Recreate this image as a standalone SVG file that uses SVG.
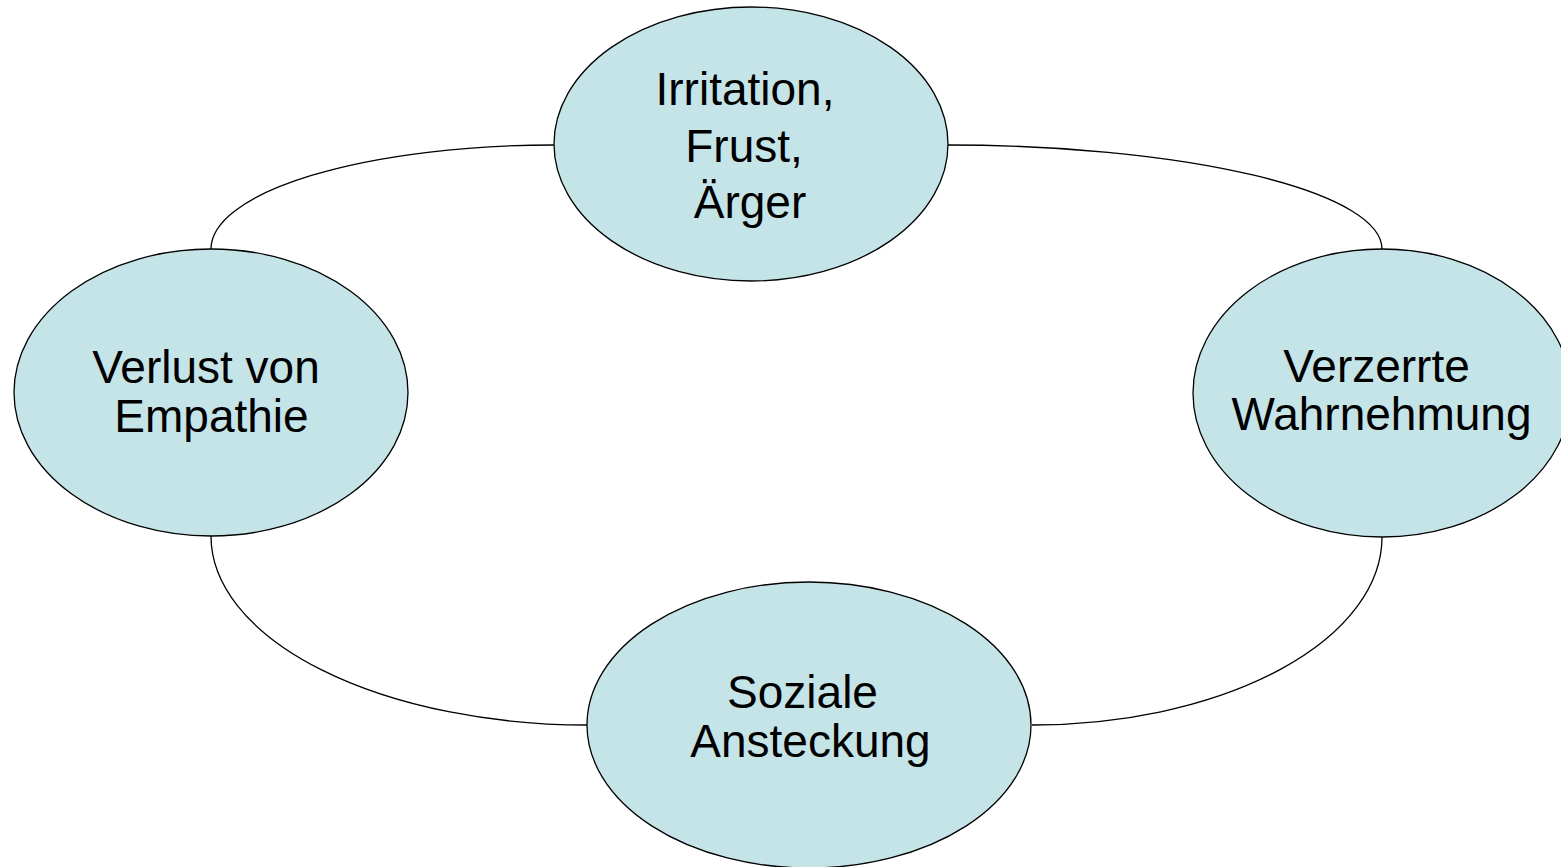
<svg xmlns="http://www.w3.org/2000/svg" width="1561" height="867" viewBox="0 0 1561 867">
<style>
.node{fill:#C5E4E8;stroke:#000;stroke-width:1.3}
.conn{fill:none;stroke:#000;stroke-width:1.3}
.lbl{font-family:"Liberation Sans",Arial,sans-serif;font-size:46px;fill:#000;text-anchor:middle}
</style>
<rect width="1561" height="867" fill="#fff"/>
<g id="connectors">
<path class="conn" d="M211,249 A343,104 0 0 1 554,145"/>
<path class="conn" d="M948,145 A434,104 0 0 1 1382,249"/>
<path class="conn" d="M211,536 A376,189 0 0 0 587,725"/>
<path class="conn" d="M1382,537 A350,188 0 0 1 1032,725"/>
</g>
<g id="node-irritation">
<ellipse class="node" cx="751" cy="144" rx="197" ry="137"/>
<text class="lbl" x="745" y="105">Irritation,</text>
<text class="lbl" x="744" y="162">Frust,</text>
<text class="lbl" x="750" y="218">Ärger</text>
</g>
<g id="node-empathie">
<ellipse class="node" cx="211" cy="392.5" rx="197" ry="143.5"/>
<text class="lbl" x="206" y="383">Verlust von</text>
<text class="lbl" x="211.5" y="432">Empathie</text>
</g>
<g id="node-wahrnehmung">
<ellipse class="node" cx="1382" cy="393" rx="189" ry="144"/>
<text class="lbl" x="1376.5" y="382">Verzerrte</text>
<text class="lbl" x="1381.5" y="430">Wahrnehmung</text>
</g>
<g id="node-ansteckung">
<ellipse class="node" cx="809" cy="725" rx="222" ry="143"/>
<text class="lbl" x="802.5" y="708">Soziale</text>
<text class="lbl" x="810.5" y="757">Ansteckung</text>
</g>
</svg>
